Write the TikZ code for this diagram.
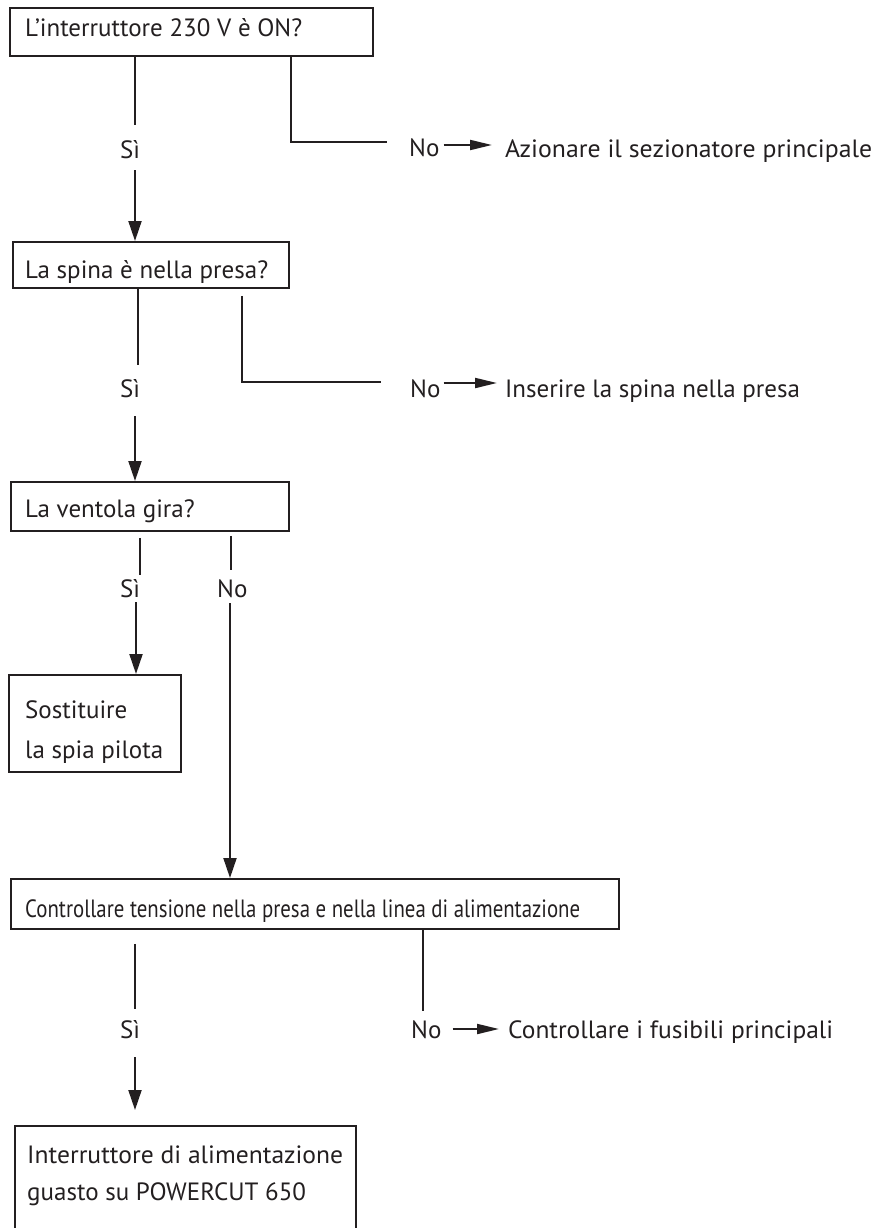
\documentclass[tikz,border=0pt]{standalone}
\usepackage{fontspec}
\usepackage{graphicx}
\setmainfont{PT Sans}
\usetikzlibrary{arrows.meta}
\definecolor{ink}{RGB}{35,31,32}
\begin{document}
\begin{tikzpicture}[x=1pt,y=-1pt,
  every node/.style={text=ink},
  box/.style={draw=ink, line width=1.8pt, anchor=north west, inner sep=0pt},
  txt/.style={anchor=base west, inner sep=0pt, font=\fontsize{25}{29}\selectfont},
  lbl/.style={anchor=base, inner sep=0pt, font=\fontsize{25}{29}\selectfont},
  ln/.style={draw=ink, line width=2pt},
  varr/.style={ln, -{Triangle[length=20pt,width=13pt]}},
  harr/.style={ln, -{Triangle[length=22pt,width=10pt]}}]
\useasboundingbox (0,0) rectangle (874,1228);

% question and action boxes
\node[box, minimum width=363pt, minimum height=48pt] (q1) at (9,7) {};
\node[box, minimum width=276pt, minimum height=46pt] (q2) at (12,241) {};
\node[box, minimum width=278pt, minimum height=49pt] (q3) at (10,481) {};
\node[box, minimum width=172pt, minimum height=97pt] (q4) at (8,674) {};
\node[box, minimum width=608pt, minimum height=50pt] (q5) at (10,878) {};
\node[box, minimum width=341pt, minimum height=130pt] (q6) at (14,1125) {};

% texts inside the boxes
\node[txt] (t1) at (25,37) {L\char"0027 interruttore 230 V è ON?};
\node[txt] (t2) at (25,278) {La spina è nella presa?};
\node[txt] (t3) at (25,517) {La ventola gira?};
\node[txt] (t4a) at (25,718) {Sostituire};
\node[txt] (t4b) at (25,758) {la spia pilota};
\node[txt] (t5) at (25,917) {\resizebox{555pt}{\height}{Controllare tensione nella presa e nella linea di alimentazione}};
\node[txt] (t6a) at (27,1163) {\resizebox{316pt}{\height}{Interruttore di alimentazione}};
\node[txt] (t6b) at (27,1200) {guasto su POWERCUT 650};

% answer labels
\node[lbl] (y1) at (130,158) {Sì};
\node[lbl] (y2) at (130,397) {Sì};
\node[lbl] (y3) at (130,597) {Sì};
\node[lbl] (y4) at (130,1038) {Sì};
\node[txt] (n1) at (409,157) {No};
\node[txt] (n2) at (410,397) {No};
\node[txt] (n3) at (217,597) {No};
\node[txt] (n4) at (411,1038) {No};

% remedies
\node[txt] (r1) at (505,157) {\resizebox{367pt}{\height}{Azionare il sezionatore principale}};
\node[txt] (r2) at (505,397) {Inserire la spina nella presa};
\node[txt] (r4) at (508,1038) {\resizebox{325pt}{\height}{Controllare i fusibili principali}};

% break points of the connectors
\coordinate (a1) at (135,125);
\coordinate (a2) at (135,170);
\coordinate (b1) at (291,142);
\coordinate (b2) at (387,142);
\coordinate (a3) at (138,365);
\coordinate (a4) at (135,416);
\coordinate (b3) at (242,382);
\coordinate (b4) at (381,382);
\coordinate (a5) at (140,575);
\coordinate (a6) at (136,602);
\coordinate (a7) at (231,570);
\coordinate (a8) at (230,603);
\coordinate (a9) at (135,1009);
\coordinate (a10) at (135,1057);
\coordinate (b5) at (423,1011);

% step 1
\draw[ln] (q1.south -| a1) -- (a1);
\draw[varr] (a2) -- (a2 |- q2.north);
\draw[ln] (q1.south -| b1) -- (b1) -- (b2);
\draw[harr, shorten <=4pt, shorten >=13pt] ([yshift=12pt]n1.base east) -- ([yshift=12pt]n1.base east -| r1.west);

% step 2
\draw[ln] (q2.south -| a3) -- (a3);
\draw[varr] (a4) -- (a4 |- q3.north);
\draw[ln, shorten <=7pt] (q2.south -| b3) -- (b3) -- (b4);
\draw[harr, shorten <=3pt, shorten >=8pt] ([yshift=14pt]n2.base east) -- ([yshift=14pt]n2.base east -| r2.west);

% step 3
\draw[ln, shorten <=6pt] (q3.south -| a5) -- (a5);
\draw[varr] (a6) -- (a6 |- q4.north);
\draw[ln, shorten <=4pt] (q3.south -| a7) -- (a7);
\draw[varr] (a8) -- (a8 |- q5.north);

% step 4
\draw[ln, shorten <=14pt] (q5.south -| a9) -- (a9);
\draw[varr, shorten >=15pt] (a10) -- (a10 |- q6.north);
\draw[ln] (q5.south -| b5) -- (b5);
\draw[harr, shorten <=11pt, shorten >=9pt] ([yshift=9pt]n4.base east) -- ([yshift=9pt]n4.base east -| r4.west);
\end{tikzpicture}
\end{document}
